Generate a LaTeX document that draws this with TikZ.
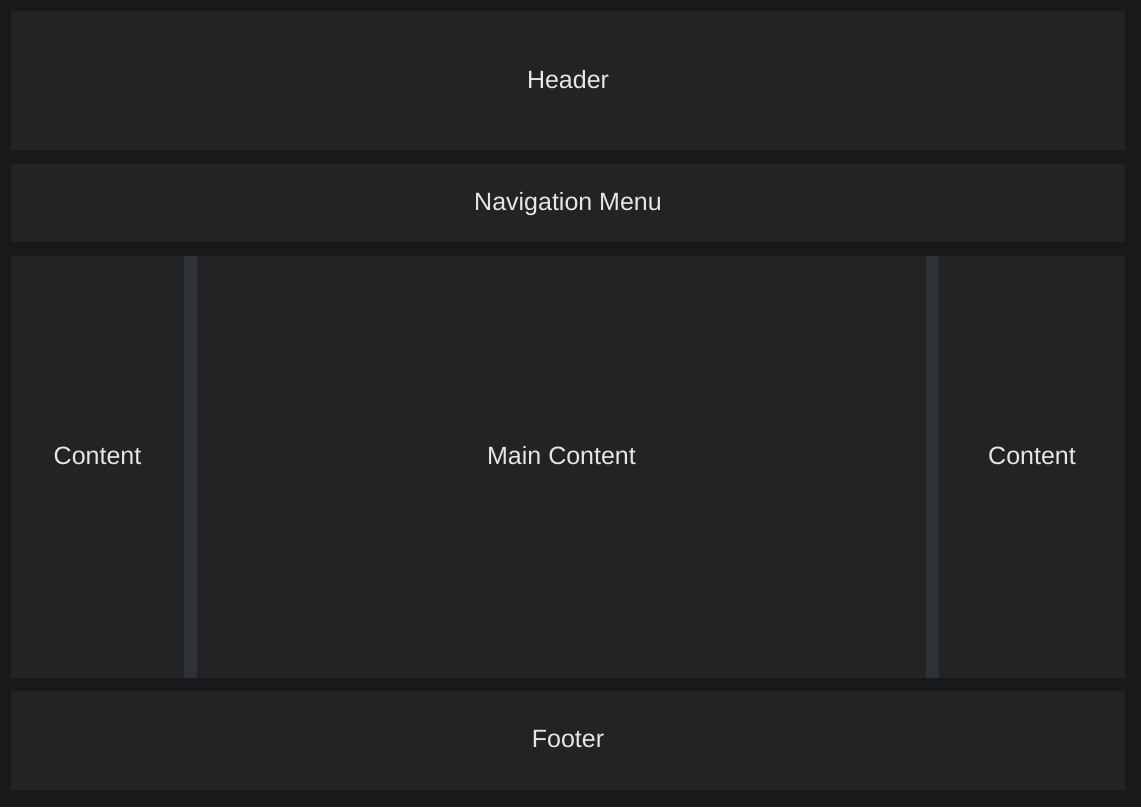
\documentclass[tikz,border=0pt]{standalone}
\usepackage{fontspec}
\setmainfont{Liberation Sans}
\definecolor{bgc}{HTML}{18191B}
\definecolor{boxc}{HTML}{222325}
\definecolor{barc}{HTML}{2E3236}
\definecolor{txtc}{HTML}{E6E6E6}
\begin{document}
\begin{tikzpicture}[x=1pt,y=-1pt,
  panel/.style={fill=boxc,draw=none},
  splitbar/.style={fill=barc,draw=none},
  lbl/.style={text=txtc,font=\fontsize{25}{29}\selectfont,inner sep=0pt}]
\fill[bgc] (0,0) rectangle (1141,807);
\useasboundingbox (0,0) rectangle (1141,807);
\path[panel] (11,11) rectangle (1125,150);
\path[panel] (11,164) rectangle (1125,242);
\path[panel] (11,256) rectangle (184,678);
\path[splitbar] (184,256) rectangle (197,678);
\path[panel] (197,256) rectangle (926,678);
\path[splitbar] (926,256) rectangle (939,678);
\path[panel] (939,256) rectangle (1125,678);
\path[panel] (11,691) rectangle (1125,790);
\node[lbl] (header) at (568,79.5) {Header};
\node[lbl] (nav) at (568,204) {Navigation Menu};
\node[lbl] (left) at (97.5,456) {Content};
\node[lbl] (main) at (561.5,456) {Main Content};
\node[lbl] (right) at (1032,456) {Content};
\node[lbl] (footer) at (568,739) {Footer};
\end{tikzpicture}
\end{document}
